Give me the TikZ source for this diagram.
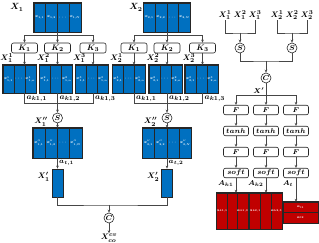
\documentclass[tikz,border=0pt]{standalone}
\usepackage{fix-cm}
\usepackage{amsmath}
\usepackage{tikz}
\usetikzlibrary{arrows.meta,positioning,calc}

\definecolor{cellblue}{RGB}{0,112,192}
\definecolor{cellred}{RGB}{192,0,0}
\definecolor{linegray}{RGB}{70,70,70}

% block of cells: name, centre, width, height, count, colour, contents
\newcommand{\cellblock}[7]{%
  \node[minimum width=#3, minimum height=#4, inner sep=0pt] (#1) at (#2) {};
  \pgfmathsetmacro\cellw{#3/#5}
  \foreach \t [count=\i] in {#7}
    \node[cell=#6, minimum width=\cellw, minimum height=#4] (#1-\i)
      at ($(#1.west)+({(\i-0.5)*\cellw},0)$) {\t};
  \draw[blkline] (#1.north west) rectangle (#1.south east);
}

\begin{document}
\begin{tikzpicture}[x=1pt, y=-1pt, >={Stealth[length=3pt,width=2.6pt]},
  wire/.style={draw=linegray, line width=0.6pt},
  cell/.style={draw=black!85, fill=#1, line width=0.4pt, inner sep=0pt,
    text=white, font=\fontsize{3.8}{4.5}\selectfont\boldmath},
  blkline/.style={draw=black!85, line width=0.8pt},
  kbox/.style={draw=black!85, fill=white, rounded corners=2pt, minimum width=26,
    minimum height=10, inner sep=0pt, line width=0.6pt, font=\footnotesize\boldmath},
  layer/.style={kbox, minimum width=25, minimum height=9.5, font=\scriptsize\boldmath},
  op/.style={circle, draw=black!85, fill=white, minimum size=10, inner sep=0pt,
    line width=0.6pt, font=\scriptsize\boldmath},
  lab/.style={inner sep=0.5pt, font=\footnotesize\boldmath}]
  \useasboundingbox (0,0) rectangle (319,243);

  % left part: the two inputs
  \cellblock{X1}{57.5,17.5}{47}{29}{4}{cellblue}{{$x_{1,1}$},{$x_{1,2}$},{$\cdots$},{$x_{1,N}$}}
  \cellblock{X2}{167,17.5}{47}{29}{4}{cellblue}{{$x_{2,1}$},{$x_{2,2}$},{$\cdots$},{$x_{2,N}$}}
  \node[lab, font=\small\boldmath] (lX1) at (17,7.5) {$X_1$};
  \node[lab, font=\small\boldmath] (lX2) at (136,7.5) {$X_2$};

  \foreach \g/\dx in {1/0, 2/109.5} {
    \coordinate (j\g) at ($(X\g.south)+(0,3)$);
    \foreach \k/\x/\bx in {1/24.5/19.5, 2/57.5/56, 3/93/92} {
      \node[kbox] (K\g\k) at (\x+\dx,48) {$K_\k$};
      \cellblock{B\g\k}{\bx+\dx,79}{33}{28}{3}{cellblue}{{$x^\k_{\g,1}$},{$\cdots$},{$x^\k_{\g,n}$}}
      \node[lab, anchor=south west] (lB\g\k) at ($(B\g\k.north west)+(-3,-1.5)$) {$X_\g^\k$};
      \draw[wire, ->] (K\g\k.south) -- (K\g\k.south |- B\g\k.north);
      \node[lab, anchor=south west] (la\g\k) at ($(K\g\k |- B\g\k.south)+(1.5,9.5)$) {$a_{k1,\k}$};
    }
    \draw[wire, ->] (X\g.south) -- (K\g2.north);
    \draw[wire, ->] (j\g) -| (K\g1.north);
    \draw[wire, ->] (j\g) -| (K\g3.north);

    \node[op] (S\g) at (57.5+\dx,118) {$S$};
    \draw[wire] (K\g1 |- B\g1.south) -- ++(0,10) -| (K\g3 |- B\g3.south);
    \draw[wire, ->] (K\g2 |- B\g2.south) -- (S\g.north);

    \cellblock{P\g}{57.5+\dx,143}{49}{30}{4}{cellblue}{{$x''_{\g,1}$},{$x''_{\g,2}$},{$\cdots$},{$x''_{\g,N}$}}
    \node[lab] (lP\g) at ($(P\g.north)+(-16.5,-6)$) {$X_\g''$};
    \draw[wire, ->] (S\g.south) -- (P\g.north);

    \node[cell=cellblue, minimum width=11, minimum height=28, line width=0.8pt] (Q\g) at (57.5+\dx,183) {};
    \node[lab, anchor=east] (lQ\g) at ($(Q\g.west)+(-1,-6)$) {$X_\g'$};
    \draw[wire, ->] (P\g.south) -- (Q\g.north);
    \node[lab, anchor=west, font=\scriptsize\boldmath] (lt\g) at ($(P\g.south)!0.5!(Q\g.north)+(1,0)$) {$a_{t,\g}$};
  }

  \coordinate (jc) at (109,205);
  \node[op] (C1) at (109,218) {$C$};
  \node[lab] (Xco) at (109,238) {$X^{cv}_{co}$};
  \draw[wire] (Q1.south) |- (jc) -| (Q2.south);
  \draw[wire, ->] (jc) -- (C1.north);
  \draw[wire, ->] (C1.south) -- (Xco.north);

  % right part: the attention branch
  \foreach \g/\x in {1/240, 2/292} {
    \foreach \k in {1,2,3}
      \node[lab] (Xr\g\k) at (\x+15*\k-30,15) {$X_\g^\k$};
    \node[op] (Sr\g) at (\x,48) {$S$};
    \coordinate (t\g) at (\x,33);
    \draw[wire] (Xr\g1.south) |- (t\g) -| (Xr\g3.south);
    \draw[wire, ->] (t\g) -- (Sr\g.north);
  }
  \node[op] (Cr) at (266,78) {$C$};
  \coordinate (tc) at (266,61);
  \draw[wire] (Sr1.south) |- (tc) -| (Sr2.south);
  \draw[wire, ->] (tc) -- (Cr.north);
  \node[lab, anchor=east, font=\scriptsize\boldmath] (lXp) at ($(Cr.south)+(-1,7)$) {$X'$};

  \coordinate (tf) at (266,95);
  \foreach \c/\x/\nm in {1/236/{k1}, 2/266/{k2}, 3/296/t} {
    \node[layer] (Fa\c) at (\x,110) {$F$};
    \node[layer] (Th\c) at (\x,131) {$tanh$};
    \node[layer] (Fb\c) at (\x,152) {$F$};
    \node[layer] (Sm\c) at (\x,173) {$soft$};
    \draw[wire, ->] (Fa\c) -- (Th\c);
    \draw[wire, ->] (Th\c) -- (Fb\c);
    \draw[wire, ->] (Fb\c) -- (Sm\c);
    \node[lab, anchor=east, font=\scriptsize\boldmath] (lA\c) at ($(Sm\c.south)+(-2,6)$) {$A_{\nm}$};
  }
  \draw[wire] (Cr.south) -- (tf);
  \draw[wire, ->] (tf) -| (Fa1.north);
  \draw[wire, ->] (tf) -- (Fa2.north);
  \draw[wire, ->] (tf) -| (Fa3.north);

  \cellblock{R1}{232.5,211}{31}{36}{3}{cellred}{{$a_{k1,1}$},{},{$a_{k1,3}$}}
  \cellblock{R2}{266,211}{32}{36}{3}{cellred}{{$a_{k2,1}$},{},{$a_{k2,3}$}}
  \node[cell=cellred, minimum width=35, minimum height=10.5] (R3-1) at (300.5,207.25) {$a_{t1}$};
  \node[cell=cellred, minimum width=35, minimum height=10.5] (R3-2) at (300.5,217.75) {$a_{t2}$};
  \draw[blkline] (R3-1.north west) rectangle (R3-2.south east);
  \draw[wire, ->] (Sm1.south) -- (Sm1.south |- R1.north);
  \draw[wire, ->] (Sm2.south) -- (Sm2.south |- R2.north);
  \draw[wire, ->] (Sm3.south) -- (Sm3.south |- R3-1.north);
\end{tikzpicture}
\end{document}
